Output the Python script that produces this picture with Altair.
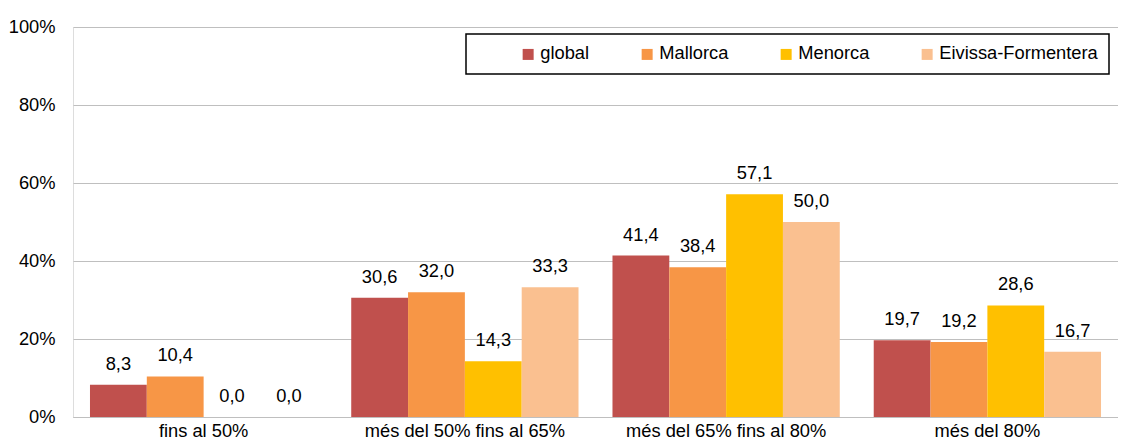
import altair as alt
import pandas as pd

categories = ["fins al 50%", "més del 50% fins al 65%", "més del 65% fins al 80%", "més del 80%"]
series = ["global", "Mallorca", "Menorca", "Eivissa-Formentera"]
colors = ["#C0504D", "#F79646", "#FFC000", "#FAC090"]
values = {
    "global": [8.3, 30.6, 41.4, 19.7],
    "Mallorca": [10.4, 32.0, 38.4, 19.2],
    "Menorca": [0.0, 14.3, 57.1, 28.6],
    "Eivissa-Formentera": [0.0, 33.3, 50.0, 16.7],
}

rows = []
for s in series:
    for c, v in zip(categories, values[s]):
        rows.append({"cat": c, "serie": s, "val": v, "label": f"{v:.1f}".replace(".", ",")})
df = pd.DataFrame(rows)

FONT = "Liberation Sans"
FS = 18.3

x = alt.X("cat:N", sort=categories, title=None,
          scale=alt.Scale(paddingInner=0.13, paddingOuter=0.065),
          axis=alt.Axis(labelAngle=0, ticks=False, labelPadding=5, domainColor="#BFBFBF",
                        labelLimit=0, labelFontSize=FS, labelFont=FONT, labelColor="#000000", grid=False))
xo = alt.XOffset("serie:N", sort=series, scale=alt.Scale(paddingInner=0, paddingOuter=0))
y = alt.Y("val:Q", title=None, scale=alt.Scale(domain=[0, 100], nice=False),
          axis=alt.Axis(values=[0, 20, 40, 60, 80, 100], labelExpr="datum.value + '%'",
                        ticks=False, domain=False, labelPadding=18, gridColor="#BFBFBF",
                        gridWidth=1.2, labelFontSize=FS, labelFont=FONT, labelColor="#000000"))

bars = alt.Chart(df).mark_bar().encode(
    x=x, xOffset=xo, y=y,
    color=alt.Color("serie:N", sort=series,
                    scale=alt.Scale(domain=series, range=colors),
                    legend=alt.Legend(title=" ", titleOrient="left", titlePadding=42,
                                      orient="none", legendX=393, legendY=7,
                                      direction="horizontal", columns=4,
                                      strokeColor="#000000", padding=11,
                                      symbolType="square", symbolSize=121, symbolStrokeWidth=0,
                                      labelOffset=3, columnPadding=48, labelLimit=0,
                                      labelFontSize=FS, labelFont=FONT, labelColor="#000000",
                                      titleFontSize=FS, titleFont=FONT)),
)

labels = alt.Chart(df).mark_text(baseline="middle", dy=-20, fontSize=FS, font=FONT, color="#000000").encode(
    x=x, xOffset=xo, y=y, text="label:N"
)

chart = (bars + labels).properties(
    width=1110, height=432,
    autosize=alt.AutoSizeParams(type="fit", contains="padding"),
    padding={"left": 0, "right": 0, "top": 9, "bottom": 0},
).configure_view(stroke=None).configure(background="#FFFFFF").configure_legend(strokeWidth=1.5)

chart.save("out.html", embed_options={"renderer": "svg", "actions": False})
